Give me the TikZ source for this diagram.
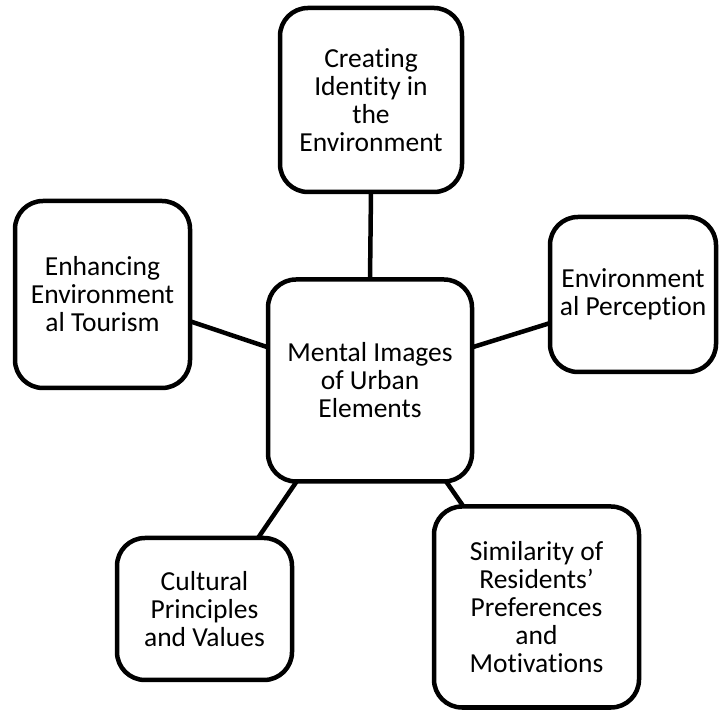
\documentclass[tikz,border=0pt]{standalone}
\usepackage{fontspec}
\setmainfont{Carlito}[Ligatures=NoCommon]
\usepackage{tikz}

\begin{document}
\begin{tikzpicture}[x=1pt, y=1pt,
                    box/.style={draw, line width=4.5pt, rounded corners=28pt,
                                align=center, outer sep=0pt, inner sep=2pt,
                                font=\fontsize{27.5}{28}\selectfont},
                    link/.style={line width=4.5pt}]
  \useasboundingbox (0,0) rectangle (719,711);

  \node[box, minimum width=204pt, minimum height=202pt] (mental) at (370,330.5)
    {Mental Images\\of Urban\\Elements};
  \node[box, minimum width=182pt, minimum height=184pt] (identity) at (371,611)
    {Creating\\Identity in\\the\\Environment};
  \node[box, minimum width=175pt, minimum height=187pt] (tourism) at (102.5,416.5)
    {Enhancing\\Environment\\al Tourism};
  \node[box, minimum width=166pt, minimum height=155pt] (perception) at (633,416.5)
    {Environment\\al Perception};
  \node[box, minimum width=175pt, minimum height=142pt] (values) at (204.5,102)
    {Cultural\\Principles\\and Values};
  \node[box, minimum width=205pt, minimum height=201pt] (similarity) at (536.5,104)
    {Similarity of\\Residents’\\Preferences\\and\\Motivations};

  \draw[link] (identity.south) -- (mental.north);
  \draw[link] (tourism.-17) -- (mental.162);
  \draw[link] (perception.199) -- (mental.18);
  \draw[link] (values.53.5) -- (mental.234);
  \draw[link] (similarity.126) -- (mental.-53.5);
\end{tikzpicture}
\end{document}
